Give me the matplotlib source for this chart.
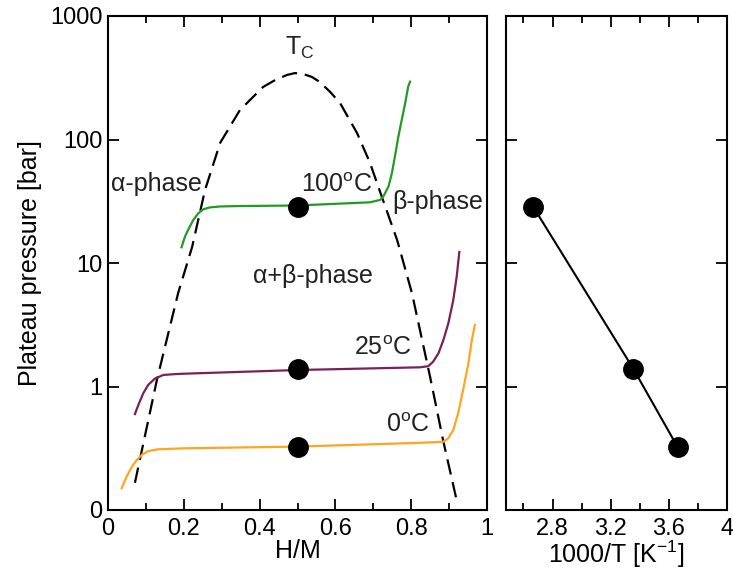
import matplotlib
matplotlib.use("Agg")
import matplotlib.pyplot as plt
from matplotlib.ticker import FixedLocator, FixedFormatter, MultipleLocator

plt.rcParams['font.family'] = ['Liberation Sans', 'DejaVu Sans']
plt.rcParams['mathtext.fontset'] = 'custom'
plt.rcParams['mathtext.rm'] = 'Liberation Sans'
plt.rcParams['mathtext.it'] = 'Liberation Sans'

# Phase boundary (dashed dome)
dome_x = [0.071, 0.129, 0.185, 0.222, 0.256, 0.296, 0.348, 0.409, 0.441, 0.472, 0.493,
          0.515, 0.538, 0.559, 0.586, 0.612, 0.657, 0.691, 0.723, 0.763, 0.802,
          0.850, 0.884, 0.921]
dome_p = [0.166, 1.13, 5.7, 13.5, 39, 94, 173, 266, 303, 333, 345,
          339, 321, 292, 243, 198, 113, 65, 34, 15.3, 5.7,
          1.19, 0.369, 0.116]

# Isotherms
iso100_x = [0.194, 0.203, 0.212, 0.225, 0.238, 0.251, 0.269, 0.296, 0.340, 0.496,
            0.691, 0.718, 0.726, 0.740, 0.749, 0.757, 0.766, 0.775, 0.784, 0.792, 0.797]
iso100_p = [13.4, 16.3, 18.7, 22.3, 25.2, 27.2, 28.2, 28.7, 28.9, 29.2,
            31.0, 32.4, 34.4, 41.5, 53.3, 72.6, 105, 144, 196, 268, 294]
iso25_x = [0.071, 0.080, 0.093, 0.106, 0.124, 0.146, 0.177, 0.203, 0.501,
           0.823, 0.845, 0.858, 0.872, 0.885, 0.898, 0.911, 0.920, 0.927]
iso25_p = [0.598, 0.708, 0.881, 1.03, 1.16, 1.24, 1.26, 1.27, 1.36,
           1.43, 1.46, 1.59, 1.86, 2.38, 3.25, 5.01, 7.74, 12.3]
iso0_x = [0.036, 0.049, 0.063, 0.076, 0.089, 0.106, 0.133, 0.168, 0.203, 0.501,
          0.823, 0.885, 0.898, 0.911, 0.924, 0.937, 0.951, 0.960, 0.968]
iso0_p = [0.150, 0.186, 0.224, 0.254, 0.279, 0.300, 0.310, 0.313, 0.316, 0.326,
          0.350, 0.357, 0.381, 0.445, 0.607, 0.937, 1.54, 2.38, 3.15]

# Plateau pressures
plateau_hm = [0.5, 0.5, 0.5]
plateau_p = [28.4, 1.39, 0.324]
inv_T = [2.668, 3.356, 3.66]

y_ticks = [0.1, 1, 10, 100, 1000]
y_labels = ['0', '1', '10', '100', '1000']
x_ticks_left = [0, 0.2, 0.4, 0.6, 0.8, 1]
x_labels_left = ['0', '0.2', '0.4', '0.6', '0.8', '1']
x_ticks_right = [2.8, 3.2, 3.6, 4.0]
x_labels_right = ['2.8', '3.2', '3.6', '4']

fig = plt.figure(figsize=(7.33, 5.78), dpi=100)
ax1 = fig.add_axes([108/733, 1-510/578, (487-108)/733, (510-16)/578])
ax2 = fig.add_axes([506/733, 1-510/578, (727-506)/733, (510-16)/578])

fs = 17
lfs = 18
for ax in (ax1, ax2):
    ax.set_yscale('log')
    ax.set_ylim(0.1, 1000)
    for s in ax.spines.values():
        s.set_linewidth(1.5)
    ax.tick_params(which='both', direction='in', top=True, right=True, labelsize=fs, width=1.3)
    ax.tick_params(which='major', length=8)
    ax.tick_params(which='minor', length=5)
    ax.tick_params(axis='x', pad=6)
    ax.yaxis.set_major_locator(FixedLocator(y_ticks))
    ax.yaxis.set_minor_locator(FixedLocator([]))

ax1.yaxis.set_major_formatter(FixedFormatter(y_labels))
ax1.tick_params(axis='y', pad=4)
ax2.set_yticklabels([])

ax1.set_xlim(0, 1)
ax1.set_xticks(x_ticks_left)
ax1.set_xticklabels(x_labels_left)
ax1.xaxis.set_minor_locator(MultipleLocator(0.1))

ax2.set_xlim(2.48, 4.0)
ax2.set_xticks(x_ticks_right)
ax2.set_xticklabels(x_labels_right)
ax2.xaxis.set_minor_locator(MultipleLocator(0.2))

ax1.plot(dome_x, dome_p, color='black', lw=1.6, ls=(0, (7, 3.5)))
ax1.plot(iso100_x, iso100_p, color='#239a23', lw=1.6)
ax1.plot(iso25_x, iso25_p, color='#7a1f5c', lw=1.6)
ax1.plot(iso0_x, iso0_p, color='#ffa520', lw=1.6)
ax1.plot(plateau_hm, plateau_p, 'o', color='black', ms=14, zorder=5)

ax2.plot(inv_T, plateau_p, '-o', color='black', lw=1.5, ms=14)

ax1.set_ylabel('Plateau pressure [bar]', fontsize=lfs, labelpad=6)
ax1.set_xlabel('H/M', fontsize=lfs, labelpad=-1)
ax2.set_xlabel('1000/T [K$^{-1}$]', fontsize=lfs, labelpad=-1)

tk = dict(fontsize=lfs, color='#222222')
ax1.text(0.507, 551, 'T$_\\mathregular{C}$', ha='center', va='center', **tk)
ax1.text(0.127, 44, '\u03b1-phase', ha='center', va='center', **tk)
ax1.text(0.604, 43, '100$^\\mathregular{o}$C', ha='center', va='center', **tk)
ax1.text(0.871, 31, '\u03b2-phase', ha='center', va='center', **tk)
ax1.text(0.541, 7.85, '\u03b1+\u03b2-phase', ha='center', va='center', **tk)
ax1.text(0.726, 2.05, '25$^\\mathregular{o}$C', ha='center', va='center', **tk)
ax1.text(0.792, 0.49, '0$^\\mathregular{o}$C', ha='center', va='center', **tk)

fig.savefig('out.png', dpi=100)
